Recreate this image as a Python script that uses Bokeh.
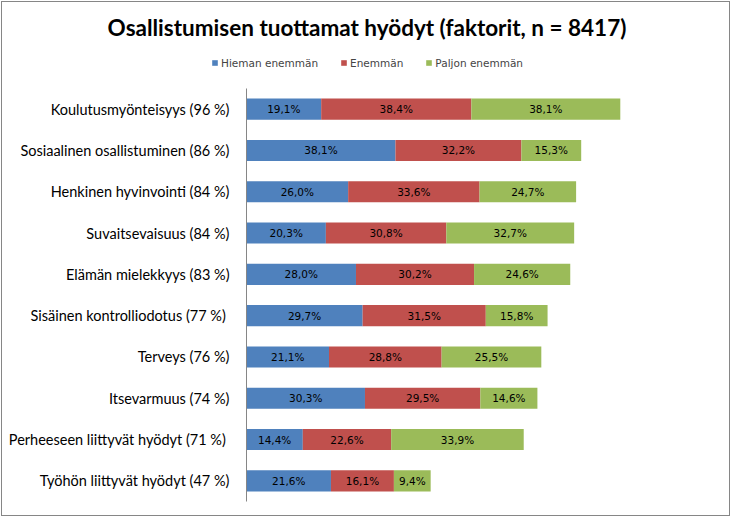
from bokeh.plotting import figure
from bokeh.layouts import column
from bokeh.models import Range1d, FactorRange, Legend, LegendItem, ColumnDataSource
from bokeh.core.properties import value
from bokeh.embed import file_html
from bokeh.resources import INLINE

categories = [
    "Koulutusmyönteisyys (96 %)",
    "Sosiaalinen osallistuminen (86 %)",
    "Henkinen hyvinvointi (84 %)",
    "Suvaitsevaisuus (84 %)",
    "Elämän mielekkyys (83 %)",
    "Sisäinen kontrolliodotus  (77 %)",
    "Terveys (76 %)",
    "Itsevarmuus (74 %)",
    "Perheeseen liittyvät hyödyt  (71 %)",
    "Työhön liittyvät hyödyt (47 %)",
]
hieman = [19.1, 38.1, 26.0, 20.3, 28.0, 29.7, 21.1, 30.3, 14.4, 21.6]
enemman = [38.4, 32.2, 33.6, 30.8, 30.2, 31.5, 28.8, 29.5, 22.6, 16.1]
paljon = [38.1, 15.3, 24.7, 32.7, 24.6, 15.8, 25.5, 14.6, 33.9, 9.4]
series_names = ["Hieman enemmän", "Enemmän", "Paljon enemmän"]
colors = ["#4F81BD", "#C0504D", "#9BBB59"]
title_text = "Osallistumisen tuottamat hyödyt (faktorit, n = 8417)"

W = 729
HEAD_H = 87
MAIN_H = 428
BORDER = "1px solid #868686"

# ---- header: title + legend ----
head = figure(
    width=W, height=HEAD_H, output_backend="svg", toolbar_location=None,
    x_range=Range1d(0, W), y_range=Range1d(0, HEAD_H),
    x_axis_type=None, y_axis_type=None,
    min_border=0,
)
head.frame_align = False
head.outline_line_color = None
head.styles = {"border-top": BORDER, "border-left": BORDER, "border-right": BORDER,
               "margin": "1px 0 0 1px"}
head.text(x=[W / 2], y=[HEAD_H - 25], text=[title_text],
          text_align="center", text_baseline="middle",
          text_font=value("Lato"), text_font_style="bold", text_font_size="22.5px",
          text_color="#000000")
# legend proxies: one off-canvas bar per series (never visible in the frame)
dummies = [head.hbar(y=[-1000], left=[0], right=[1], height=1,
                     fill_color=c, line_color=None)
           for c in colors]
legend = Legend(
    items=[LegendItem(label=n, renderers=[r]) for n, r in zip(series_names, dummies)],
    orientation="horizontal",
    location=(209, 20.5),
    glyph_width=7, glyph_height=7,
    label_text_font="DejaVu Sans", label_text_font_size="10.5px",
    label_standoff=3, spacing=22, padding=0, margin=0,
    border_line_color=None, background_fill_alpha=0,
    label_height=12,
)
head.add_layout(legend, "center")

# ---- main chart ----
p = figure(
    width=W, height=MAIN_H,
    output_backend="svg", toolbar_location=None,
    x_range=Range1d(0, 100),
    y_range=FactorRange(*list(reversed(categories)), range_padding=0),
    min_border_left=244, min_border_right=94,
    min_border_top=0, min_border_bottom=15,
)
p.frame_align = False
p.styles = {"border-bottom": BORDER, "border-left": BORDER, "border-right": BORDER,
            "margin": "0 0 0 1px"}
p.outline_line_color = None
p.xgrid.visible = False
p.ygrid.visible = False
p.xaxis.visible = False
ax = p.yaxis[0]
ax.axis_line_color = "#868686"
ax.axis_line_width = 1
ax.major_tick_line_color = None
ax.minor_tick_line_color = None
ax.major_label_text_font = "Lato"
ax.major_label_text_font_size = "14.5px"
ax.major_label_text_color = "#000000"
ax.major_label_standoff = 11

series = [hieman, enemman, paljon]
starts = [0.0] * len(categories)
lab_x, lab_y, lab_t = [], [], []
for idx, vals in enumerate(series):
    left = list(starts)
    right = [a + b for a, b in zip(starts, vals)]
    src = ColumnDataSource(dict(cat=categories, left=left, right=right))
    p.hbar(y="cat", left="left", right="right", height=0.51, source=src,
           fill_color=colors[idx], line_color=None)
    for c, l, v in zip(categories, left, vals):
        lab_x.append(l + v / 2)
        lab_y.append(c)
        lab_t.append(f"{v:.1f}".replace(".", ",") + "%")
    starts = right

p.text(x=lab_x, y=lab_y, text=lab_t, text_align="center", text_baseline="middle",
       text_font=value("DejaVu Sans"), text_font_size="10.5px", text_color="#000000")

layout = column(head, p, spacing=0)
open("out.html", "w").write(file_html(layout, INLINE))
